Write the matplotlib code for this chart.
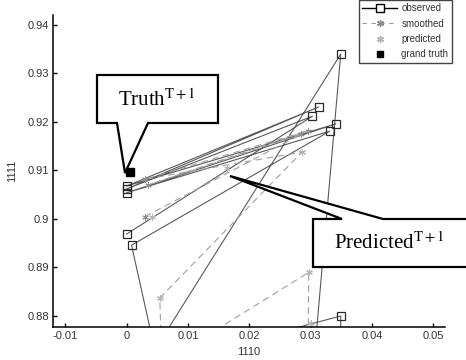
import numpy as np
import matplotlib
matplotlib.use('Agg')
import matplotlib.pyplot as plt
from matplotlib.patches import Polygon
from matplotlib.lines import Line2D

plt.rcParams['font.family'] = ['Liberation Sans', 'DejaVu Sans']
plt.rcParams['mathtext.fontset'] = 'stix'

# 观测轨迹 (observed)
obs_x = [0.0000, 0.0303, 0.0000, 0.0313, 0.0000, 0.0341, 0.0000, 0.0331,
         0.0008, 0.0046, 0.0349, 0.0298, 0.0100, 0.0349, 0.0349]
obs_y = [0.8969, 0.9212, 0.9062, 0.9231, 0.9068, 0.9196, 0.9054, 0.9181,
         0.8946, 0.8730, 0.9340, 0.8600, 0.8716, 0.8800, 0.8600]

# 平滑结果 (smoothed)
sm_x = [0.0030, 0.0285, 0.0035, 0.0295, 0.0030, 0.0286, 0.0054, 0.0058,
        0.0080, 0.0297, 0.0295]
sm_y = [0.9005, 0.9175, 0.9070, 0.9182, 0.9082, 0.9138, 0.8837, 0.8690,
        0.8720, 0.8890, 0.8650]

# 预测点 (predicted)
pred_x = [0.0042, 0.0163, 0.0286, 0.0297, 0.0054, 0.0300]
pred_y = [0.9004, 0.9105, 0.9138, 0.8890, 0.8837, 0.8785]

# 真值 (grand truth)
truth_x = [0.0005]
truth_y = [0.9097]

xticks = [-0.01, 0, 0.01, 0.02, 0.03, 0.04, 0.05]
xticklabels = ['-0.01', '0', '0.01', '0.02', '0.03', '0.04', '0.05']
yticks = [0.88, 0.89, 0.9, 0.91, 0.92, 0.93, 0.94]
yticklabels = ['0.88', '0.89', '0.9', '0.91', '0.92', '0.93', '0.94']

W, H = 466, 360
fig = plt.figure(figsize=(W / 100, H / 100), dpi=100)
ax = fig.add_axes([53 / W, 1 - 327 / H, (445 - 53) / W, (327 - 15) / H])

star = (6, 2, 0)
ax.plot(obs_x, obs_y, '-', color='#5a5a5a', lw=0.8, marker='s', ms=5.5,
        mfc='none', mec='#2a2a2a', mew=0.9)
ax.plot(sm_x, sm_y, '--', color='#a0a0a0', lw=0.8, dashes=(6, 4),
        marker=star, ms=4.5, mec='#909090', mew=0.7)
ax.plot(pred_x, pred_y, ls='none', marker=star, ms=4.5, mec='#b5b5b5', mew=0.7)
ax.plot(truth_x, truth_y, ls='none', marker='s', ms=6, mfc='black', mec='black')

ax.set_xlim(-0.0120, 0.0519)
ax.set_ylim(0.87773, 0.94206)
ax.set_xticks(xticks)
ax.set_xticklabels(xticklabels)
ax.set_yticks(yticks)
ax.set_yticklabels(yticklabels)
ax.tick_params(direction='in', length=3, width=1, labelsize=8, colors='black',
               labelcolor='#333333', pad=3)
ax.spines['top'].set_visible(False)
ax.spines['right'].set_visible(False)
for s in ['left', 'bottom']:
    ax.spines[s].set_linewidth(1.1)
ax.set_xlabel('1110', fontsize=8, color='#333333', labelpad=4)
ax.set_ylabel('1111', fontsize=8, color='#333333', labelpad=7)

# 图例
handles = [
    Line2D([], [], color='black', lw=1, marker='s', ms=5.5, mfc='white', mec='black'),
    Line2D([], [], color='#9a9a9a', lw=0.8, ls='--', dashes=(4, 4), marker=star,
           ms=5, mec='#8a8a8a'),
    Line2D([], [], ls='none', marker=star, ms=5, mec='#b0b0b0'),
    Line2D([], [], ls='none', marker='s', ms=5, mfc='black', mec='black'),
]
labels = ['observed', 'smoothed', 'predicted', 'grand truth']
leg = fig.legend(handles, labels, loc='upper left', bbox_to_anchor=(359 / W, 1.0),
                 fontsize=7, frameon=True, fancybox=False, edgecolor='#444444',
                 framealpha=1, handlelength=3.6, handletextpad=0.4,
                 labelspacing=0.55, borderpad=0.35, borderaxespad=0)
leg.get_frame().set_linewidth(1.0)
for t in leg.get_texts():
    t.set_color('#333333')


def px(points):
    return [(x / W, 1 - y / H) for x, y in points]


# 标注框: Truth
truth_box = [(97, 75), (218, 75), (218, 123), (148, 123), (125, 173),
             (117, 123), (97, 123)]
fig.patches.append(Polygon(px(truth_box), closed=True, facecolor='white',
                           edgecolor='black', lw=1.6, transform=fig.transFigure,
                           zorder=5))
fig.text(118 / W, 1 - 106 / H, r'Truth$^{\rm T+1}$', family='Liberation Serif',
         fontsize=15, ha='left', va='baseline', zorder=6)

# 标注框: Predicted
pred_box = [(313, 219), (342, 219), (230, 176), (383, 219), (470, 219),
            (470, 267), (313, 267)]
fig.patches.append(Polygon(px(pred_box), closed=True, facecolor='white',
                           edgecolor='black', lw=1.6, transform=fig.transFigure,
                           zorder=5))
fig.text(334 / W, 1 - 249 / H, r'Predicted$^{\rm T+1}$', family='Liberation Serif',
         fontsize=15, ha='left', va='baseline', zorder=6)

fig.savefig('out.png', dpi=100)
